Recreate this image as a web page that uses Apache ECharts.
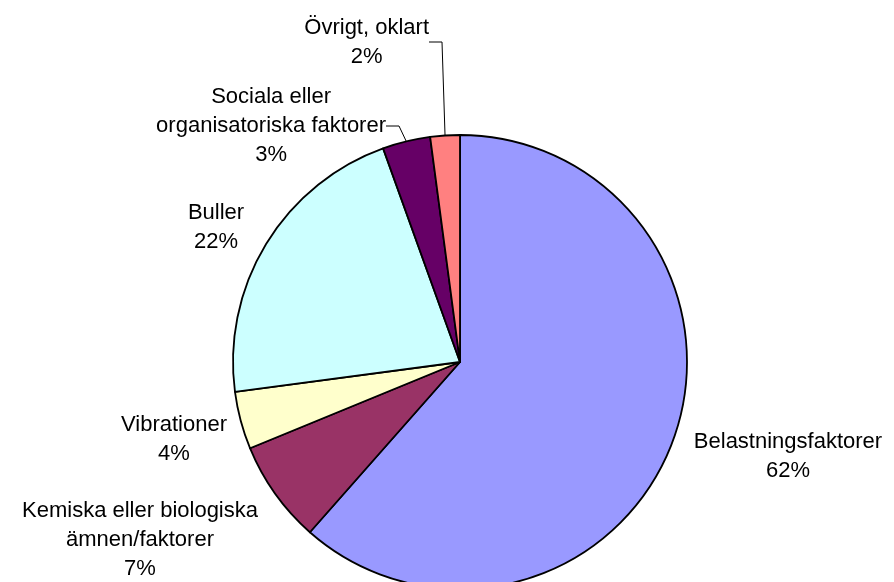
<!DOCTYPE html>
<html lang="sv">
<head>
	<meta charset="UTF-8">
	<title>pie</title>
	<style>
		html, body { margin: 0; padding: 0; background: #fff; }
		#main { width: 894px; height: 582px; }
	</style>
	<script src="https://cdn.jsdelivr.net/npm/echarts@6/dist/echarts.min.js"></script>
</head>
<body>
	<div id="main"></div>
	<script>
		// kategorier (medurs från kl 12)
		var categories = [
			'Belastningsfaktorer',
			'Kemiska eller biologiska\nämnen/faktorer',
			'Vibrationer',
			'Buller',
			'Sociala eller\norganisatoriska faktorer',
			'Övrigt, oklart'
		];
		// andelar i procent
		var shares = [61.5, 7.3, 4.1, 21.6, 3.4, 2.1];
		var colors = ['#9999FF', '#993366', '#FFFFCC', '#CCFFFF', '#660066', '#FF8080'];
		var showLine = [false, false, false, false, true, true];

		// etikettens mitt (eller högerkant när den har en linje)
		var labelPos = [
			[788, 456],
			[140, 540],
			[174, 439],
			[216, 227],
			[386, 126],
			[429, 42]
		];

		var myChart = echarts.init(document.getElementById('main'));

		var data = [];
		for (var i = 0; i < categories.length; i++) {
			data.push({
				name: categories[i],
				value: shares[i],
				itemStyle: { color: colors[i] },
				labelLine: { show: showLine[i] }
			});
		}

		var option = {
			animation: false,
			series: [{
				type: 'pie',
				center: [460, 362],
				radius: 227,
				startAngle: 90,
				clockwise: true,
				avoidLabelOverlap: false,
				emphasis: { disabled: true },
				itemStyle: {
					borderColor: '#000',
					borderWidth: 1.8
				},
				label: {
					show: true,
					position: 'outside',
					color: '#000',
					fontFamily: 'Liberation Sans, Arial, sans-serif',
					fontSize: 22,
					lineHeight: 29,
					align: 'center',
					formatter: function (p) {
						return p.name + '\n' + Math.round(p.percent) + '%';
					}
				},
				labelLine: {
					lineStyle: { color: '#000', width: 1 },
					length: 12,
					length2: 13
				},
				labelLayout: function (params) {
					var i = params.dataIndex;
					var pos = labelPos[i];
					var x = pos[0];
					if (showLine[i]) {
						x = pos[0] - params.labelRect.width / 2;
					}
					return {
						x: x,
						y: pos[1],
						align: 'center',
						verticalAlign: 'middle'
					};
				},
				data: data
			}]
		};

		myChart.setOption(option);
	</script>
</body>
</html>
